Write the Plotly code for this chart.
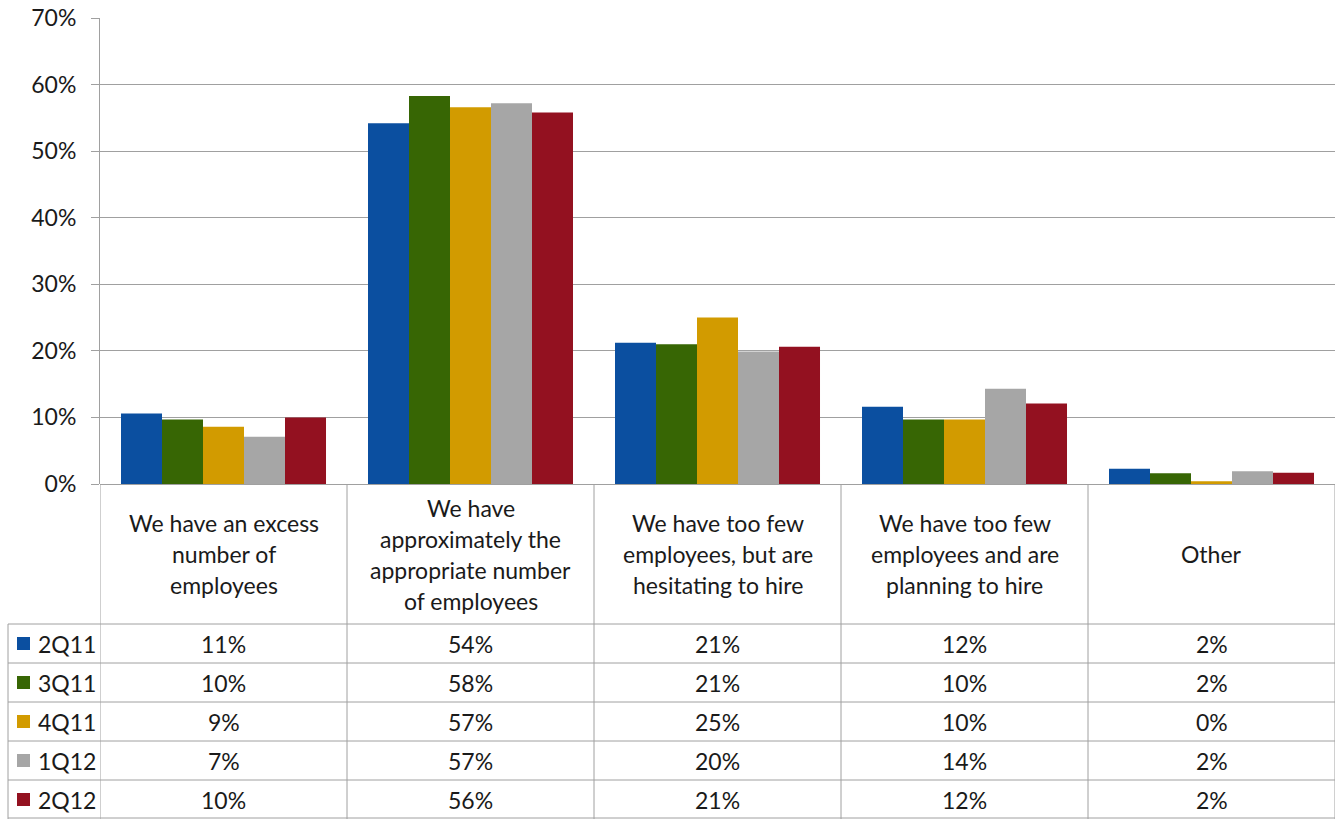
import plotly.graph_objects as go

categories = [
    "We have an excess<br>number of<br>employees",
    "We have<br>approximately the<br>appropriate number<br>of employees",
    "We have too few<br>employees, but are<br>hesitating to hire",
    "We have too few<br>employees and are<br>planning to hire",
    "Other",
]
series_names = ["2Q11", "3Q11", "4Q11", "1Q12", "2Q12"]
s_2q11 = [10.6, 54.2, 21.2, 11.6, 2.3]
s_3q11 = [9.7, 58.3, 21.0, 9.7, 1.6]
s_4q11 = [8.6, 56.6, 25.0, 9.7, 0.4]
s_1q12 = [7.1, 57.2, 19.9, 14.3, 1.9]
s_2q12 = [10.0, 55.8, 20.6, 12.1, 1.7]
series_values = [s_2q11, s_3q11, s_4q11, s_1q12, s_2q12]
colors = ["#0B4FA0", "#376604", "#D29B00", "#A6A6A6", "#931120"]
y_ticks = [0, 10, 20, 30, 40, 50, 60, 70]

W, H = 1335, 819
ML, MR, MT, MB = 100, 0, 18, 335
PW, PH = W - ML - MR, H - MT - MB
FONT = "Lato"
FS = 23
TXT = "#1a1a1a"
LINE = "#a0a0a0"

def px_x(px):
    return (px - ML) / PW

def px_y(py):
    return (H - MB - py) / PH

fig = go.Figure()
xs = list(range(len(categories)))
for name, vals, col in zip(series_names, series_values, colors):
    fig.add_trace(go.Bar(x=xs, y=vals, name=name, marker=dict(color=col, line=dict(width=0)),
                         hoverinfo="skip"))

shapes = []
annotations = []
header_top, header_bot = 484, 624
row_h = 39
row_tops = [header_bot + i * row_h for i in range(len(series_names))]
bottom = header_bot + row_h * len(series_names)

for i in range(len(categories) + 1):
    xb = i - 0.5
    shapes.append(dict(type="line", xref="x", yref="paper", x0=xb, x1=xb,
                       y0=px_y(header_top), y1=px_y(bottom + 2), line=dict(color=LINE, width=1)))
shapes.append(dict(type="line", xref="paper", yref="paper", x0=px_x(8), x1=px_x(8),
                   y0=px_y(header_bot), y1=px_y(bottom + 2), line=dict(color=LINE, width=1)))
for yt in row_tops + [bottom - 1]:
    shapes.append(dict(type="line", xref="paper", yref="paper", x0=px_x(8), x1=1,
                       y0=px_y(yt), y1=px_y(yt), line=dict(color=LINE, width=1)))

line_sp = 31
for i, cat in enumerate(categories):
    lines = cat.split("<br>")
    n = len(lines)
    center = (header_top + header_bot) / 2
    for j, ln in enumerate(lines):
        yc = center + (j - (n - 1) / 2) * line_sp
        annotations.append(dict(x=i, y=px_y(yc), xref="x", yref="paper", text=ln,
                                showarrow=False, xanchor="center", yanchor="middle",
                                font=dict(family=FONT, size=FS, color=TXT)))

for r, (name, vals, col) in enumerate(zip(series_names, series_values, colors)):
    yc = row_tops[r] + row_h / 2
    shapes.append(dict(type="rect", xref="paper", yref="paper",
                       x0=px_x(17), x1=px_x(30), y0=px_y(yc - 6.5), y1=px_y(yc + 6.5),
                       fillcolor=col, line=dict(width=0)))
    annotations.append(dict(x=px_x(36), y=px_y(yc), xref="paper", yref="paper", text=name,
                            showarrow=False, xanchor="left", yanchor="middle",
                            font=dict(family=FONT, size=FS, color=TXT)))
    for i, v in enumerate(vals):
        annotations.append(dict(x=i, y=px_y(yc), xref="x", yref="paper",
                                text=f"{int(v + 0.5)}%", showarrow=False,
                                xanchor="center", yanchor="middle",
                                font=dict(family=FONT, size=FS, color=TXT)))

fig.update_layout(
    width=W, height=H,
    margin=dict(l=ML, r=MR, t=MT, b=MB, pad=0),
    paper_bgcolor="white", plot_bgcolor="white",
    barmode="group", bargap=0.17, bargroupgap=0,
    showlegend=False,
    shapes=shapes, annotations=annotations,
    font=dict(family=FONT, color=TXT),
)
fig.update_xaxes(range=[-0.5, len(categories) - 0.5], showticklabels=False,
                 showgrid=False, zeroline=False, showline=False, ticks="")
fig.update_yaxes(range=[0, 70], tickvals=y_ticks, ticktext=[f"{t}%" for t in y_ticks],
                 showgrid=True, gridcolor=LINE, gridwidth=1,
                 showline=True, linecolor=LINE, linewidth=1,
                 ticks="outside", ticklen=8, tickcolor=LINE,
                 ticklabelstandoff=10,
                 zeroline=True, zerolinecolor=LINE, zerolinewidth=1,
                 tickfont=dict(family=FONT, size=FS, color=TXT))

fig.write_html("out.html", config={"displayModeBar": False},
               post_script="document.body.style.margin='0';document.body.style.overflow='hidden';")
